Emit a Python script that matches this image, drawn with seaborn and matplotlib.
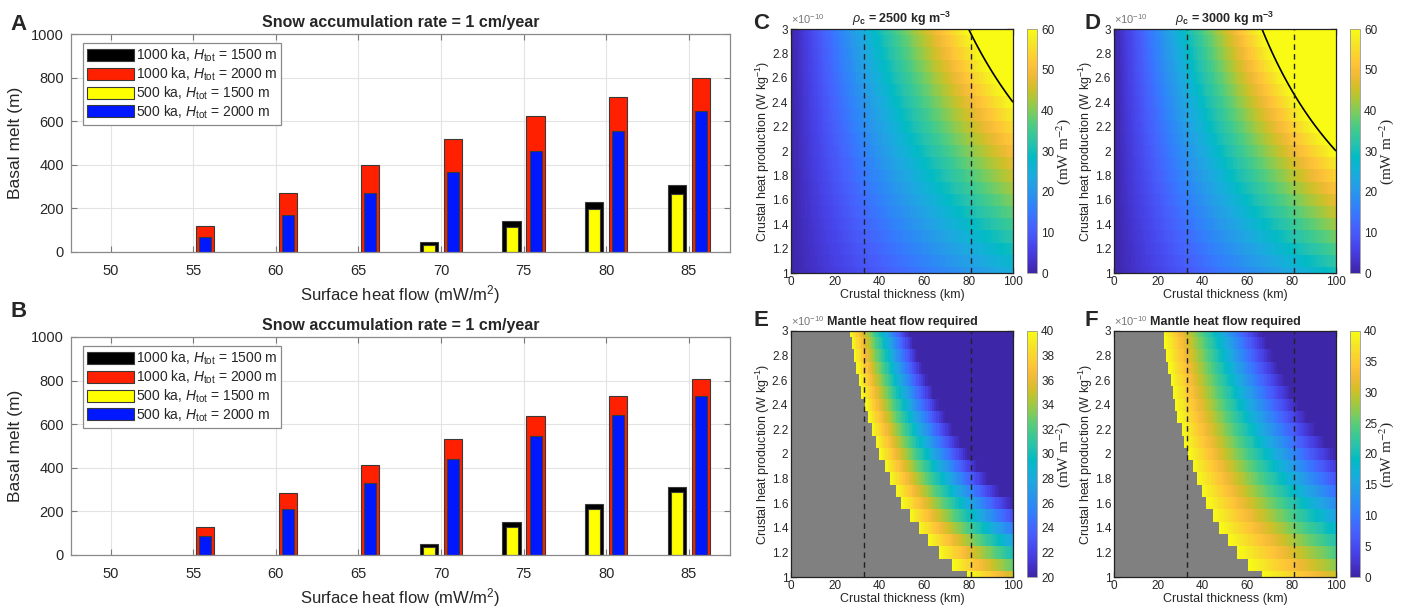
import numpy as np
import pandas as pd
import matplotlib
matplotlib.use('Agg')
import matplotlib.pyplot as plt
from matplotlib.colors import LinearSegmentedColormap
from matplotlib.patches import Patch
import seaborn as sns

heat_flow = [50, 55, 60, 65, 70, 75, 80, 85]  # surface heat flow, mW/m2

a_1000_1500 = [0, 0, 0, 0, 44, 142, 229, 306]
a_1000_2000 = [0, 120, 271, 401, 520, 623, 712, 796]
a_500_1500 = [0, 0, 0, 0, 34, 114, 197, 267]
a_500_2000 = [0, 70, 171, 271, 366, 463, 556, 646]

b_1000_1500 = [0, 0, 0, 0, 49, 150, 232, 310]
b_1000_2000 = [0, 127, 283, 413, 534, 639, 729, 806]
b_500_1500 = [0, 0, 0, 0, 38, 127, 209, 289]
b_500_2000 = [0, 89, 211, 330, 439, 544, 641, 731]

series_labels = [r'1000 ka, $H_{\rm tot}$ = 1500 m', r'1000 ka, $H_{\rm tot}$ = 2000 m',
                 r'500 ka, $H_{\rm tot}$ = 1500 m', r'500 ka, $H_{\rm tot}$ = 2000 m']

# ---- heat map data (panels C-F) ----
heat_prod = [1.0, 1.1, 1.2, 1.3, 1.4, 1.5, 1.6, 1.7, 1.8, 1.9, 2.0,
             2.1, 2.2, 2.3, 2.4, 2.5, 2.6, 2.7, 2.8, 2.9, 3.0]  # x1e-10 W/kg
thickness_km = np.arange(0, 101, 1)
densities = [2500, 3000]          # kg/m3, panels C/E and D/F
surface_flow = 60                 # mW/m2
mantle_max = 40                   # mW/m2, above this -> grey
dashed_thickness = [33, 81]       # km
mantle_vmin = [20, 0]
mantle_ticks = [np.arange(20, 41, 2), np.arange(0, 41, 5)]

# MATLAB parula approximation
parula_pts = [
    (0.2422, 0.1504, 0.6603), (0.2647, 0.1978, 0.7952), (0.2783, 0.2559, 0.8991),
    (0.2810, 0.3228, 0.9579), (0.2699, 0.3892, 0.9906), (0.2206, 0.4603, 0.9973),
    (0.1786, 0.5289, 0.9682), (0.1540, 0.5902, 0.9218), (0.1248, 0.6459, 0.8883),
    (0.0689, 0.6948, 0.8394), (0.0067, 0.7312, 0.7660), (0.1408, 0.7584, 0.6842),
    (0.2161, 0.7843, 0.5923), (0.3406, 0.8008, 0.4789), (0.5044, 0.7993, 0.3480),
    (0.6720, 0.7793, 0.2227), (0.8203, 0.7498, 0.1535), (0.9393, 0.7288, 0.2100),
    (0.9970, 0.7659, 0.2199), (0.9786, 0.8386, 0.1766), (0.9597, 0.9135, 0.1423),
    (0.9769, 0.9839, 0.0805)]
parula = LinearSegmentedColormap.from_list('parula', parula_pts, N=256)

sns.set_style('ticks')
plt.rcParams['font.family'] = ['Liberation Sans', 'DejaVu Sans']
plt.rcParams['mathtext.fontset'] = 'custom'
plt.rcParams['mathtext.rm'] = 'Liberation Sans'
plt.rcParams['mathtext.it'] = 'Liberation Sans:italic'
plt.rcParams['mathtext.bf'] = 'Liberation Sans:bold'

W, H = 1410, 609
fig = plt.figure(figsize=(W / 100, H / 100), dpi=100)


def box(l, t, r, b):
    return [l / W, 1 - b / H, (r - l) / W, (b - t) / H]


def bar_panel(ax, v1, v2, v3, v4):
    rows = []
    for x, p, q, r, s in zip(heat_flow, v1, v2, v3, v4):
        rows += [(x, '1000', '1500', p), (x, '1000', '2000', q),
                 (x, '500', '1500', r), (x, '500', '2000', s)]
    df = pd.DataFrame(rows, columns=['heat', 'period', 'H', 'melt'])
    df = df[df['melt'] > 0]
    ax.grid(True, color='#e3e3e3', lw=0.8)
    ax.set_axisbelow(True)
    sns.barplot(data=df[df['period'] == '1000'], x='heat', y='melt', hue='H',
                hue_order=['1500', '2000'], palette=['black', '#ff2000'],
                native_scale=True, width=0.58, gap=0.24, saturation=1,
                errorbar=None, edgecolor='#3a3a3a', linewidth=0.8, legend=False, ax=ax)
    sns.barplot(data=df[df['period'] == '500'], x='heat', y='melt', hue='H',
                hue_order=['1500', '2000'], palette=['#ffff00', '#0018ff'],
                native_scale=True, width=0.58, gap=0.5, saturation=1,
                errorbar=None, edgecolor='#3a3a3a', linewidth=0.8, legend=False, ax=ax)
    ax.set_xlim(47.6, 87.5)
    ax.set_ylim(0, 1000)
    ax.set_xticks(heat_flow)
    ax.set_yticks(range(0, 1001, 200))
    ax.tick_params(direction='in', top=True, right=True, length=4, width=0.8,
                   color='#7a7a7a', labelsize=10.5, labelcolor='#262626', pad=9)
    ax.tick_params(axis='y', pad=5)
    for s in ax.spines.values():
        s.set_color('#8a8a8a')
        s.set_linewidth(0.9)
    ax.set_xlabel(r'Surface heat flow (mW/m$^2$)', fontsize=12, color='#262626', labelpad=3)
    ax.set_ylabel('Basal melt (m)', fontsize=12.5, color='#262626', labelpad=6)
    ax.set_title('Snow accumulation rate = 1 cm/year', fontsize=11.5, fontweight='bold', pad=5)
    handles = [Patch(facecolor=c, edgecolor='#3a3a3a', lw=0.8)
               for c in ['black', '#ff2000', '#ffff00', '#0018ff']]
    leg = ax.legend(handles, series_labels, loc='upper left', bbox_to_anchor=(0.018, 0.96),
                    borderaxespad=0, fontsize=10, handlelength=3.4, handleheight=0.95,
                    handletextpad=0.1, labelspacing=0.1, borderpad=0.3, fancybox=False,
                    framealpha=1, edgecolor='#8a8a8a')
    leg.get_frame().set_linewidth(0.9)


axA = fig.add_axes(box(71, 34, 730, 252))
bar_panel(axA, a_1000_1500, a_1000_2000, a_500_1500, a_500_2000)
axB = fig.add_axes(box(71, 337, 730, 555))
bar_panel(axB, b_1000_1500, b_1000_2000, b_500_1500, b_500_2000)


def style_map(ax, title):
    ax.set_xlim(0, 100)
    ax.set_ylim(1, 3)
    ax.set_xticks(range(0, 101, 20))
    ax.set_yticks(heat_prod[::2])
    ax.set_yticklabels([f'{v:g}' for v in heat_prod[::2]])
    ax.tick_params(direction='in', top=True, right=True, length=4, width=0.9,
                   color='#222222', labelsize=8.5, labelcolor='#262626', pad=2)
    for s in ax.spines.values():
        s.set_color('#222222')
        s.set_linewidth(0.9)
    for xv in dashed_thickness:
        ax.axvline(xv, color='#222222', ls=(0, (4, 3)), lw=1.0)
    ax.set_xlabel('Crustal thickness (km)', fontsize=9, color='#262626', labelpad=1)
    ax.set_ylabel(r'Crustal heat production (W kg$^{-1}$)', fontsize=9, color='#262626', labelpad=0)
    ax.set_title(title, fontsize=9, fontweight='bold', pad=4)
    ax.text(0.0, 1.012, r'$\times10^{-10}$', transform=ax.transAxes, fontsize=8,
            color='#777777', ha='left', va='bottom')


def add_cbar(mesh, rect, ticks):
    cax = fig.add_axes(rect)
    cb = fig.colorbar(mesh, cax=cax, ticks=ticks)
    cb.outline.set_edgecolor('#999999')
    cb.outline.set_linewidth(0.6)
    cax.tick_params(labelsize=8.5, length=0, pad=3, labelcolor='#262626')
    cb.set_label(r'(mW m$^{-2}$)', fontsize=11, family='Liberation Serif',
                 math_fontfamily='stix', labelpad=0)


A = np.array(heat_prod)[:, None]
h = thickness_km[None, :].astype(float)

col_left = [791, 1114]
col_right = [1013, 1336]
cb_left = [1027, 1350]
top_titles = [r'$\rho_\mathbf{c}$ = 2500 kg m$^\mathbf{-3}$',
              r'$\rho_\mathbf{c}$ = 3000 kg m$^\mathbf{-3}$']

for i, rho in enumerate(densities):
    crust = A * rho * h * 1e-4  # mW/m2
    ax = fig.add_axes(box(col_left[i], 29, col_right[i], 273))
    mesh = ax.pcolormesh(thickness_km, heat_prod, crust, cmap=parula, vmin=0, vmax=60,
                         shading='nearest', rasterized=True)
    ax.contour(thickness_km, heat_prod, crust, levels=[60], colors='k', linewidths=1.2)
    style_map(ax, top_titles[i])
    add_cbar(mesh, box(cb_left[i], 29, cb_left[i] + 10, 273), range(0, 61, 10))

    mantle = np.ma.masked_where(surface_flow - crust > mantle_max, surface_flow - crust)
    cm = parula.copy()
    cm.set_bad('#808080')
    ax2 = fig.add_axes(box(col_left[i], 331, col_right[i], 577))
    ax2.set_facecolor('#808080')
    mesh2 = ax2.pcolormesh(thickness_km, heat_prod, mantle, cmap=cm, vmin=mantle_vmin[i],
                           vmax=mantle_max, shading='nearest', rasterized=True)
    style_map(ax2, 'Mantle heat flow required')
    add_cbar(mesh2, box(cb_left[i], 331, cb_left[i] + 10, 577), mantle_ticks[i])

for letter, x, y in [('A', 10, 30), ('B', 10, 317), ('C', 753, 29), ('D', 1084, 29),
                     ('E', 753, 326), ('F', 1084, 326)]:
    fig.text(x / W, 1 - y / H, letter, fontsize=16, fontweight='bold', ha='left', va='baseline')

fig.savefig('out.png', dpi=100)
